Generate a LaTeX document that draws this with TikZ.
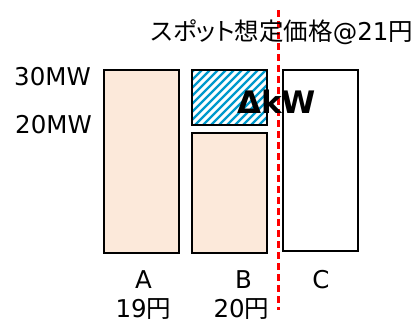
\documentclass[tikz,border=0pt]{standalone}
\usepackage{fontspec}
\setmainfont{DejaVu Sans}
\newfontfamily\jp[RawFeature=+palt]{Noto Sans CJK JP}
\definecolor{peach}{RGB}{252,233,218}
\definecolor{hatch}{RGB}{0,153,204}
\definecolor{redline}{RGB}{255,0,0}
\begin{document}
\begin{tikzpicture}[x=1pt,y=-1pt,
  bar/.style={draw=black, line width=2pt, fill=peach, inner sep=0pt},
  emptybar/.style={draw=black, line width=1.6pt, fill=white, inner sep=0pt},
  lbl/.style={font=\fontsize{24.5}{28}\selectfont, inner sep=0pt, anchor=base},
  hatchline/.style={draw=hatch, line width=2.4pt}]
\useasboundingbox (0,0) rectangle (420,322);
% bars
\node[bar, line width=2.4pt, minimum width=75pt, minimum height=183pt] (A) at (141.5,161.5) {};
\node[bar, line width=1.6pt, minimum width=75pt, minimum height=120pt] (B) at (229.5,193) {};
\node[emptybar, minimum width=75pt, minimum height=181pt] (C) at (320.5,160.5) {};
% hatched box
\node[draw=none, inner sep=0pt, minimum width=75pt, minimum height=55pt] (H) at (229.5,97.5) {};
\begin{scope}
  \clip (H.south west) rectangle (H.north east);
  \foreach \k in {-64,-56,...,80}{
    \draw[hatchline] (192+\k,128) -- ++(60,-60);
  }
\end{scope}
\draw[black, line width=1.6pt] (H.south west) rectangle (H.north east);
% red dashed line
\coordinate (rt) at (278,10);
\coordinate (rb) at (278,310);
\draw[redline, line width=3pt, dash pattern=on 7pt off 4pt] (rt) -- (rb);
% labels
\node[lbl] (title) at (282,40) {{\jp スポット想定価格}@21{\jp 円}};
\node[lbl] (m30) at (52.5,85) {30MW};
\node[lbl] (m20) at (53.5,133) {20MW};
\node[font=\fontsize{31}{34}\selectfont\bfseries, inner sep=0pt, anchor=base] (dkw) at (276.5,113) {ΔkW};
\node[lbl] (la) at (143.5,288) {A};
\node[lbl] (lb) at (243.5,288) {B};
\node[lbl] (lc) at (321,288) {C};
\node[lbl] (pa) at (143.5,317.5) {19{\jp 円}};
\node[lbl] (pb) at (241.5,317.5) {20{\jp 円}};
\end{tikzpicture}
\end{document}
